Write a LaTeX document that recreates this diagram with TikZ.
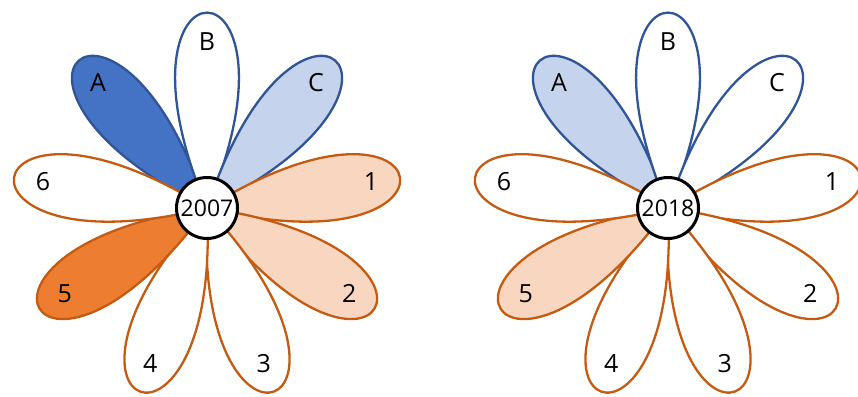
\documentclass[tikz,border=0pt]{standalone}
\usepackage{fontspec}
\setmainfont{Open Sans}
\usetikzlibrary{calc}
\definecolor{blueline}{RGB}{47,85,151}
\definecolor{bluedark}{RGB}{68,114,196}
\definecolor{bluelight}{RGB}{197,211,236}
\definecolor{orangeline}{RGB}{197,90,17}
\definecolor{orangedark}{RGB}{237,125,49}
\definecolor{orangelight}{RGB}{249,214,192}
\tikzset{
petal/.style={
  line width=2.3pt,
  line join=round
},
bluepetal/.style={
  petal,
  draw=blueline
},
orangepetal/.style={
  petal,
  draw=orangeline
},
petallabel/.style={
  font=\fontsize{25}{30}\selectfont,
  text=black,
  inner sep=0pt
},
hub/.style={
  circle,
  draw=black,
  line width=3pt,
  fill=white,
  minimum size=61pt,
  inner sep=0pt,
  font=\fontsize{23}{27}\selectfont
}
}
% #1 centre, #2 angle, #3 style, #4 fill, #5 label
\newcommand{\flowerpetal}[5]{%
  \draw[#3, fill=#4] (#1) .. controls +({#2-23}:283) and +({#2+23}:283) .. (#1);
  \node[petallabel] (#1-#5) at ($(#1)+(#2:166)$) {#5};
}

\begin{document}
\begin{tikzpicture}[x=1pt, y=1pt]
  \useasboundingbox (0,0) rectangle (858,396);
  \coordinate (c07) at (207,188);
  \coordinate (c18) at (668,188);

  % 2007
  \foreach \ang/\lbl/\col in {131/A/bluedark, 90/B/white, 49/C/bluelight}
    {\flowerpetal{c07}{\ang}{bluepetal}{\col}{\lbl}}
  \foreach \ang/\lbl/\col in {9/1/orangelight, -31/2/orangelight, -70/3/white, -110/4/white, -149/5/orangedark, 171/6/white}
    {\flowerpetal{c07}{\ang}{orangepetal}{\col}{\lbl}}
  \node[hub] (y07) at (c07) {2007};

  % 2018
  \foreach \ang/\lbl/\col in {131/A/bluelight, 90/B/white, 49/C/white}
    {\flowerpetal{c18}{\ang}{bluepetal}{\col}{\lbl}}
  \foreach \ang/\lbl/\col in {9/1/white, -31/2/white, -70/3/white, -110/4/white, -149/5/orangelight, 171/6/white}
    {\flowerpetal{c18}{\ang}{orangepetal}{\col}{\lbl}}
  \node[hub] (y18) at (c18) {2018};
\end{tikzpicture}
\end{document}
